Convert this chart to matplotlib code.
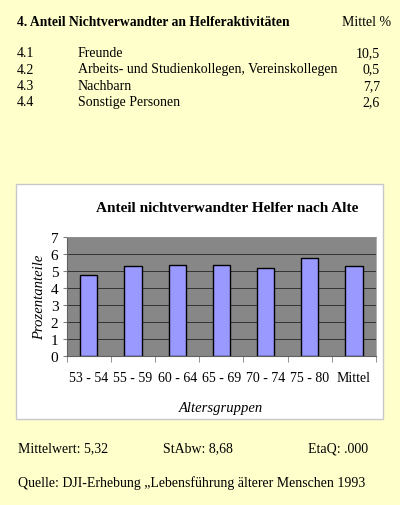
import matplotlib
matplotlib.use("Agg")
import matplotlib.pyplot as plt
from matplotlib.patches import Rectangle

plt.rcParams['font.family'] = ['Liberation Serif', 'DejaVu Serif']

# table above the chart
heading = "4. Anteil Nichtverwandter an Helferaktivitäten"
heading_right = "Mittel %"
row_nums = ["4.1", "4.2", "4.3", "4.4"]
row_labels = ["Freunde", "Arbeits- und Studienkollegen, Vereinskollegen", "Nachbarn", "Sonstige Personen"]
row_values = ["10,5", "0,5", "7,7", "2,6"]

# chart data
age_groups = ["53 - 54", "55 - 59", "60 - 64", "65 - 69", "70 - 74", "75 - 80", "Mittel"]
shares = [4.8, 5.3, 5.35, 5.35, 5.2, 5.8, 5.32]
chart_title = "Anteil nichtverwandter Helfer nach Alte"

stats = ["Mittelwert: 5,32", "StAbw: 8,68", "EtaQ: .000"]
source = "Quelle: DJI-Erhebung \u201eLebensführung älterer Menschen 1993"

W, H = 400, 506
fig = plt.figure(figsize=(W / 100, H / 100), dpi=100, facecolor='#ffffcc')

def fx(x):
    return x / W

def fy(y):
    return 1 - y / H

# table
fig.text(fx(17), fy(22), heading, fontsize=9.8, fontweight='bold', va='center')
fig.text(fx(391), fy(22), heading_right, fontsize=10, va='center', ha='right')
for i, (n, l, v) in enumerate(zip(row_nums, row_labels, row_values)):
    y = 53.5 + i * 16.5
    fig.text(fx(17), fy(y), n, fontsize=10, va='center')
    fig.text(fx(78), fy(y), l, fontsize=10, va='center')
    fig.text(fx(380), fy(y), v, fontsize=10, va='center', ha='right')

# white chart box
fig.patches.append(Rectangle((fx(16), fy(420)), fx(367), 235 / H, transform=fig.transFigure,
                             facecolor='white', edgecolor='#c8c8c8', linewidth=1, zorder=-5))

ax = fig.add_axes([fx(66.7), fy(356.7), fx(376 - 66.7), (356.7 - 238.3) / H])
ax.set_zorder(2)
ax.set_facecolor('#878787')
x = range(len(age_groups))
ax.bar(x, shares, width=0.39, color='#9999ff', edgecolor='black', linewidth=1, zorder=3)
ax.set_xlim(-0.5, len(age_groups) - 0.5)
ax.set_ylim(0, 7)
ax.set_yticks(range(8))
ax.yaxis.grid(True, color='#333333', linewidth=0.7, zorder=1)
ax.set_axisbelow(True)
ax.set_xticks(list(x))
ax.set_xticklabels(age_groups, fontsize=10)
ax.tick_params(axis='x', length=0, pad=11)
ax.set_xticks([i - 0.5 for i in range(len(age_groups) + 1)], minor=True)
ax.tick_params(axis='x', which='minor', length=4, color='#808080')
ax.tick_params(axis='y', length=3, labelsize=11, pad=3, color='#808080')
for s in ['top', 'right']:
    ax.spines[s].set_color('#a0a0a0')
    ax.spines[s].set_linewidth(0.6)
for s in ['left', 'bottom']:
    ax.spines[s].set_color('#606060')
    ax.spines[s].set_linewidth(0.8)
ax.set_ylabel("Prozentanteile", fontsize=10.5, style='italic', labelpad=3)
ax.set_xlabel("Altersgruppen", fontsize=10.5, style='italic', labelpad=12)

fig.text(fx(96), fy(209), chart_title, fontsize=11, fontweight='bold', va='center')

# stats and source
fig.text(fx(18), fy(449), stats[0], fontsize=10, va='center')
fig.text(fx(163), fy(449), stats[1], fontsize=10, va='center')
fig.text(fx(368), fy(449), stats[2], fontsize=10, va='center', ha='right')
fig.text(fx(18), fy(483), source, fontsize=10, va='center')

fig.savefig("out.png", dpi=100, facecolor=fig.get_facecolor())
